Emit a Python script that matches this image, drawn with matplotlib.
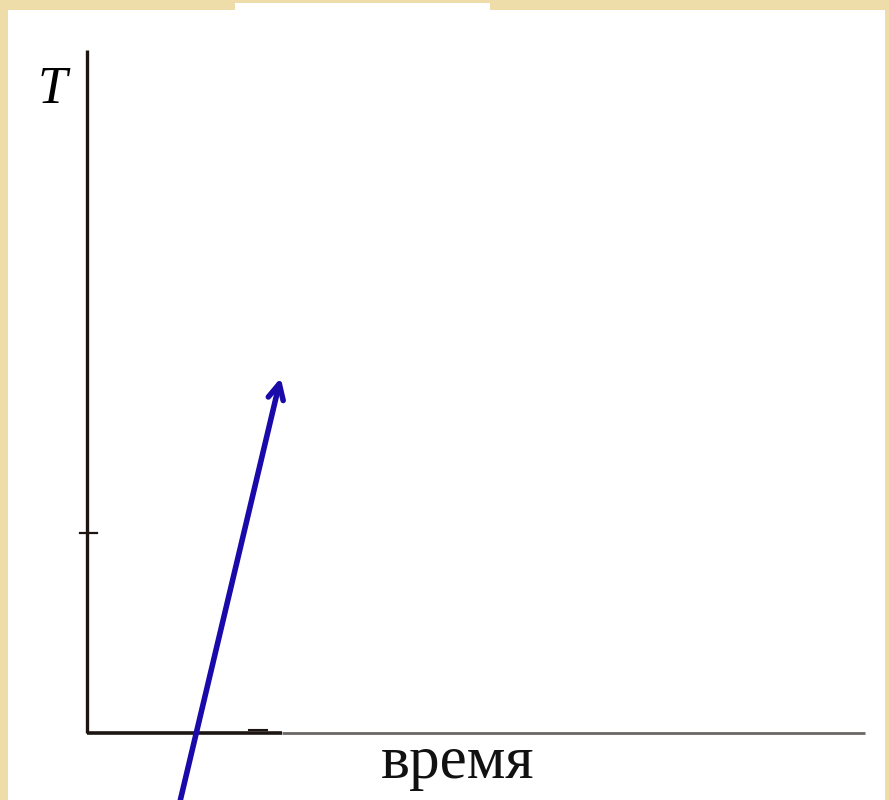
import matplotlib
matplotlib.use("Agg")
import matplotlib.pyplot as plt
from matplotlib.patches import Rectangle

# axis ranges (arbitrary units: time and temperature)
time_range = [0.0, 10.0]
temp_range = [0.0, 10.0]
temp_tick = [2.93]
time_tick = [2.2]
dark_part_end = 2.5          # x-axis is drawn dark up to here, grey after
arrow_start = (1.2, -0.98)
arrow_end = (2.49, 5.2)
xlabel = "время"
ylabel = "T"

W, H = 889, 800
fig = plt.figure(figsize=(W / 100, H / 100), dpi=100)
fig.patch.set_facecolor("#eedca9")

# white slide panel (behind the axes)
fig.patches.append(Rectangle((8 / W, 0), (885 - 8) / W, (800 - 10) / H,
                             transform=fig.transFigure, facecolor="white",
                             edgecolor="none", zorder=-5))
fig.patches.append(Rectangle((235 / W, (800 - 10) / H), (490 - 235) / W, 7 / H,
                             transform=fig.transFigure, facecolor="white",
                             edgecolor="none", zorder=-5))

left, right, top, bottom = 87, 865, 50, 733
ax = fig.add_axes([left / W, (H - bottom) / H, (right - left) / W, (bottom - top) / H])
ax.set_zorder(1)
ax.set_xlim(time_range)
ax.set_ylim(temp_range)
ax.patch.set_alpha(0)
for s in ax.spines.values():
    s.set_visible(False)
ax.set_xticks([])
ax.set_yticks([])

# axes lines
ax.plot([0, 0], temp_range, color="#1c1512", lw=2.4, solid_capstyle="butt", clip_on=False)
ax.plot([0, dark_part_end], [0, 0], color="#1c1512", lw=2.6, solid_capstyle="butt", clip_on=False)
ax.plot([dark_part_end, time_range[1]], [0, 0], color="#6b6767", lw=2.0, solid_capstyle="butt", clip_on=False)

# ticks
for t in temp_tick:
    ax.plot([-0.09, 0.13], [t, t], color="#1c1512", lw=1.6, clip_on=False)
for t in time_tick:
    ax.plot([t - 0.12, t + 0.12], [0.04, 0.04], color="#1c1512", lw=1.5, clip_on=False)

# arrow
ax.annotate("", xy=arrow_end, xytext=arrow_start, annotation_clip=False,
            arrowprops=dict(arrowstyle="->,head_length=1.1,head_width=0.55",
                            color="#1a0aaa", lw=4.0, shrinkA=0, shrinkB=0))

ax.text(-0.45, 9.22, ylabel, fontsize=38, family="Liberation Serif", style="italic",
        ha="center", va="baseline")
ax.text(4.77, -0.66, xlabel, fontsize=44, family="Liberation Serif",
        ha="center", va="baseline", color="#111111")

fig.savefig("out.png", dpi=100)
